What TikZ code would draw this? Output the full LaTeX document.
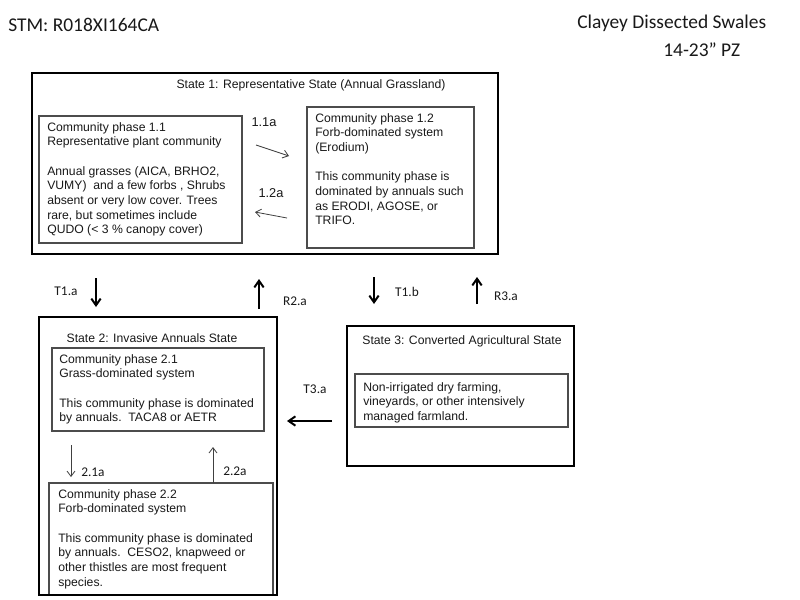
\documentclass[tikz,border=0pt]{standalone}
\usepackage{fontspec}
\setmainfont{Liberation Sans}
\newfontfamily\calfont{Carlito}
\usetikzlibrary{arrows.meta,fit}
\begin{document}
\begin{tikzpicture}[x=0.75pt,y=-0.75pt,
  statebox/.style={draw=black, line width=2.2pt, inner sep=0pt},
  phasebox/.style={draw=black!70, line width=0.8pt, inner sep=0pt},
  body/.style={font=\fontsize{9.15}{11}\selectfont, align=left, anchor=north west, inner sep=0pt, text=black!90},
  title/.style={font=\fontsize{9.15}{11}\selectfont, inner sep=0pt, text=black!90},
  bigarrow/.style={-{Straight Barb[length=5pt,width=7pt]}, line width=1.5pt},
  thinarrow/.style={-{Straight Barb[length=4pt,width=6pt]}, line width=0.6pt, draw=black!75},
  clab/.style={font=\calfont\fontsize{10}{12}\selectfont, inner sep=0pt, text=black!90},
  alab/.style={font=\fontsize{9.6}{11}\selectfont, inner sep=0pt, text=black!90},
  head/.style={font=\calfont\fontsize{14.6}{17}\selectfont, inner sep=0pt, anchor=base west, text=black!90}
]
\useasboundingbox[fill=white] (0,0) rectangle (800,600);

% header
\node[head] (stm) at (8,31) {STM: R018XI164CA};
\node[head] (site) at (577,28) {Clayey Dissected Swales};
\node[head] (pz) at (663,56) {14-23” PZ};

% phase boxes
\node[phasebox, fit={(39,116) (242,243)}] (p11) {};
\node[phasebox, fit={(307,107) (474,248)}] (p12) {};
\node[phasebox, fit={(52,348) (264,431)}] (p21) {};
\node[phasebox, fit={(49,483) (273,595)}] (p22) {};
\node[phasebox, fit={(355,374) (568,427)}] (p31) {};

% state boxes
\node[statebox, fit={(32,73) (498,254)}] (s1) {};
\node[statebox, fit={(39,317) (277,595)}] (s2) {};
\node[statebox, fit={(347,326) (574,466)}] (s3) {};

% titles
\node[title] (s1t) at (311,85) {State 1: Representative State (Annual Grassland)};
\node[title] (s2t) at (152,338) {State 2: Invasive Annuals State};
\node[title] (s3t) at (462,341) {State 3: Converted Agricultural State};

% phase texts
\node[body] (p11t) at (47,122) {Community phase 1.1\\Representative plant community\\[11pt]Annual grasses (AICA, BRHO2,\\VUMY)\ \ and a few forbs , Shrubs\\absent or very low cover. Trees\\rare, but sometimes include\\QUDO (< 3 \% canopy cover)};
\node[body] (p12t) at (315,113) {Community phase 1.2\\Forb-dominated system\\(Erodium)\\[11pt]This community phase is\\dominated by annuals such\\as ERODI, AGOSE, or\\TRIFO.};
\node[body] (p21t) at (59,354) {Community phase 2.1\\Grass-dominated system\\[11pt]This community phase is dominated\\by annuals.\ \ TACA8 or AETR};
\node[body] (p22t) at (58,489) {Community phase 2.2\\Forb-dominated system\\[11pt]This community phase is dominated\\by annuals.\ \ CESO2, knapweed or\\other thistles are most frequent\\species.};
\node[body] (p31t) at (363,382) {Non-irrigated dry farming,\\vineyards, or other intensively\\managed farmland.};

% arrow endpoints
\coordinate (a11s) at (256,145); \coordinate (a11e) at (289,156);
\coordinate (a12s) at (287,218); \coordinate (a12e) at (255,212);
\coordinate (t1as) at (96,278);  \coordinate (t1ae) at (96,307);
\coordinate (r2as) at (259,309); \coordinate (r2ae) at (259,279);
\coordinate (t1bs) at (374,277); \coordinate (t1be) at (374,304);
\coordinate (r3as) at (477,304); \coordinate (r3ae) at (477,277);
\coordinate (t3as) at (332,421); \coordinate (t3ae) at (287,421);
\coordinate (a21s) at (71,445);  \coordinate (a21e) at (71,477);
\coordinate (a22s) at (213,483); \coordinate (a22e) at (213,447);

\draw[thinarrow] (a11s) -- (a11e);
\draw[thinarrow] (a12s) -- (a12e);
\draw[thinarrow] (a21s) -- (a21e);
\draw[thinarrow] (a22s) -- (a22e);
\draw[bigarrow] (t1as) -- (t1ae);
\draw[bigarrow] (r2as) -- (r2ae);
\draw[bigarrow] (t1bs) -- (t1be);
\draw[bigarrow] (r3as) -- (r3ae);
\draw[bigarrow] (t3as) -- (t3ae);

% labels
\node[alab] (l11) at (264,122) {1.1a};
\node[alab] (l12) at (271,193) {1.2a};
\node[clab] (lt1a) at (66,291) {T1.a};
\node[clab] (lr2a) at (295,301) {R2.a};
\node[clab] (lt1b) at (407,292) {T1.b};
\node[clab] (lr3a) at (506,296) {R3.a};
\node[clab] (lt3a) at (315,389) {T3.a};
\node[clab] (l21) at (93,472) {2.1a};
\node[clab] (l22) at (235,471) {2.2a};
\end{tikzpicture}
\end{document}
